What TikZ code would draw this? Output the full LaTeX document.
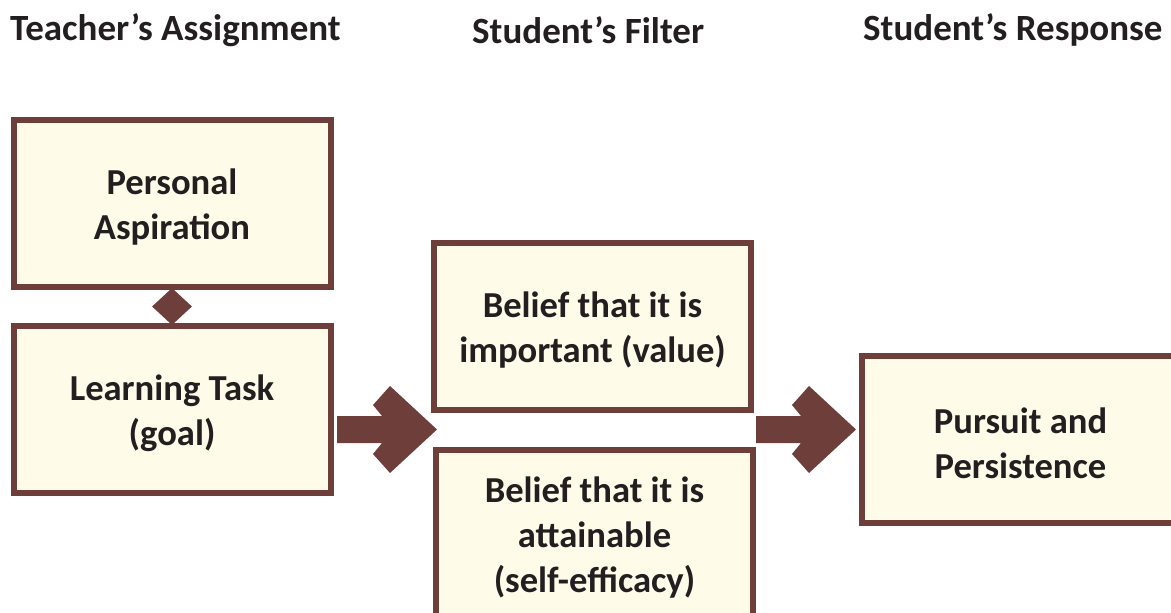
\documentclass[tikz,border=0pt]{standalone}
\usepackage{fontspec}
\setmainfont{Carlito}
\usetikzlibrary{shapes.geometric}
\definecolor{brownline}{HTML}{6E3F3A}
\definecolor{creamfill}{HTML}{FFFBE9}
\definecolor{inktext}{HTML}{231F20}
\tikzset{
  boxnode/.style={draw=brownline, fill=creamfill, line width=6pt, rectangle,
    minimum width=317pt, minimum height=167pt, inner sep=0pt},
  boxtext/.style={inner sep=0pt, align=center, text=inktext,
    font=\fontsize{36.6}{45}\selectfont\bfseries},
  headnode/.style={anchor=base west, inner sep=0pt, text=inktext,
    font=\fontsize{37}{45}\selectfont\bfseries},
  joint/.style={shape=diamond, fill=brownline, minimum width=40pt, minimum height=37pt, inner sep=0pt},
  blockarrow/.pic={
    \fill[brownline] (-100,-13.5) -- (-55,-13.5) -- (-64,-24.5) -- (-47,-43.5) -- (0,0)
      -- (-47,43.5) -- (-64,24.5) -- (-55,13.5) -- (-100,13.5) -- cycle;
  }
}
\begin{document}
\begin{tikzpicture}[x=1pt, y=-1pt]
\useasboundingbox (0,0) rectangle (1171,613);
\clip (0,0) rectangle (1171,613);
% headers
\node[headnode] (h1) at (10,40) {Teacher’s Assignment};
\node[headnode] (h2) at (472,43.3) {Student’s Filter};
\node[headnode] (h3) at (863,40) {Student’s Response};
% boxes
\node[boxnode] (pa) at (172,203.5) {};
\node[boxnode] (lt) at (172,409) {};
\node[boxnode] (bv) at (592.5,326.5) {};
\node[boxnode] (ba) at (594.5,533.5) {};
\node[boxnode] (pp) at (1020.5,439.5) {};
% box texts
\node[boxtext] (pa-t) at ([yshift=-4pt]pa.center) {Personal\\Aspiration};
\node[boxtext] (lt-t) at ([yshift=-4pt]lt.center) {Learning Task\\(goal)};
\node[boxtext] (bv-t) at ([yshift=-4pt]bv.center) {Belief that it is\\important (value)};
\node[boxtext] (ba-t) at ([yshift=-4pt]ba.center) {Belief that it is\\attainable\\(self-efficacy)};
\node[boxtext] (pp-t) at ([yshift=-4pt]pp.center) {Pursuit and\\Persistence};
% diamond joint
\node[joint] (dj) at (172,306.5) {};
% block arrows
\coordinate (t1) at (437,429.5);
\coordinate (t2) at (856,429.5);
\pic at (t1) {blockarrow};
\pic at (t2) {blockarrow};
\end{tikzpicture}
\end{document}
